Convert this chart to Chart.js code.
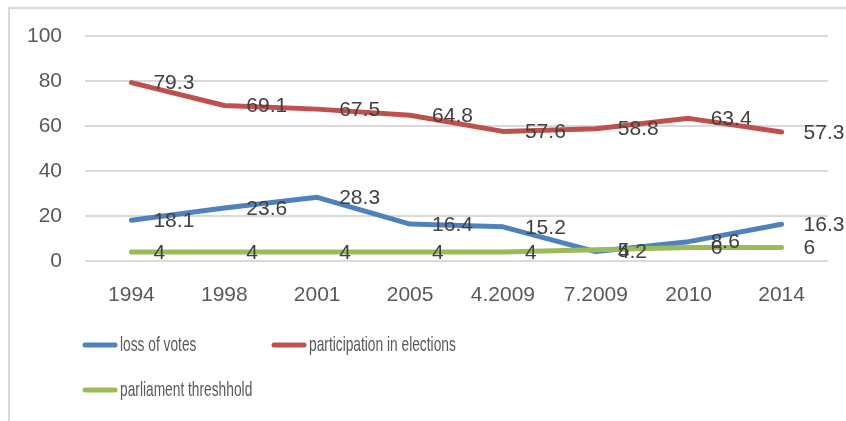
<!DOCTYPE html>
<html>
<head>
<meta charset="utf-8">
<title>Elections</title>
<script src="https://cdn.jsdelivr.net/npm/chart.js@4"></script>
<style>
  html, body { margin: 0; padding: 0; background: #fff; }
  #wrap { width: 846px; height: 421px; position: relative; }
</style>
</head>
<body>
<div id="wrap"><canvas id="electionChart"></canvas></div>
<script>
// --- Data ---
const years = ['1994', '1998', '2001', '2005', '4.2009', '7.2009', '2010', '2014'];
const lossOfVotes = [18.1, 23.6, 28.3, 16.4, 15.2, 4.2, 8.6, 16.3];
const participation = [79.3, 69.1, 67.5, 64.8, 57.6, 58.8, 63.4, 57.3];
const threshold = [4, 4, 4, 4, 4, 5, 6, 6];
const yTicks = [0, 20, 40, 60, 80, 100];

const BLUE = '#4F81BD';
const RED = '#C0504D';
const GREEN = '#9BBB59';
const FONT = "'Liberation Sans', Arial, sans-serif";

// Light frame around the whole chart
const framePlugin = {
    id: 'frame',
    beforeDraw(chart) {
        const ctx = chart.ctx;
        ctx.save();
        ctx.fillStyle = '#fff';
        ctx.fillRect(0, 0, chart.width, chart.height);
        ctx.strokeStyle = '#D9D9D9';
        ctx.lineWidth = 2;
        ctx.beginPath();
        ctx.moveTo(9, chart.height);
        ctx.lineTo(9, 8);
        ctx.lineTo(chart.width, 8);
        ctx.stroke();
        ctx.restore();
    }
};

// Value labels to the right of every point
const valueLabels = {
    id: 'valueLabels',
    afterDatasetsDraw(chart) {
        const ctx = chart.ctx;
        ctx.save();
        ctx.font = '21px ' + FONT;
        ctx.fillStyle = '#404040';
        ctx.textAlign = 'left';
        ctx.textBaseline = 'middle';
        chart.data.datasets.forEach((ds, i) => {
            const meta = chart.getDatasetMeta(i);
            meta.data.forEach((pt, j) => {
                ctx.fillText(String(ds.data[j]), pt.x + 22, pt.y + 1);
            });
        });
        ctx.restore();
    }
};

// Legend below the plot, two columns
const columnLegend = {
    id: 'columnLegend',
    afterDraw(chart) {
        const ctx = chart.ctx;
        const startX = 83, colW = 189, rows = [345, 390];
        ctx.save();
        chart.data.datasets.forEach((ds, i) => {
            const x = startX + (i % 2) * colW;
            const y = rows[Math.floor(i / 2)];
            ctx.strokeStyle = ds.borderColor;
            ctx.lineWidth = 5;
            ctx.lineCap = 'round';
            ctx.beginPath();
            ctx.moveTo(x + 2, y);
            ctx.lineTo(x + 32, y);
            ctx.stroke();
            ctx.save();
            ctx.translate(x + 37, y);
            ctx.scale(0.655, 1);
            ctx.font = '21px ' + FONT;
            ctx.fillStyle = '#595959';
            ctx.textBaseline = 'middle';
            ctx.fillText(ds.label, 0, 0);
            ctx.restore();
        });
        ctx.restore();
    }
};

const lineStyle = {
    borderWidth: 5,
    pointRadius: 0,
    pointHoverRadius: 0,
    tension: 0,
    borderCapStyle: 'round',
    borderJoinStyle: 'round',
    fill: false
};

new Chart(document.getElementById('electionChart'), {
    type: 'line',
    data: {
        labels: years,
        datasets: [
            { label: 'loss of votes', data: lossOfVotes, borderColor: BLUE, backgroundColor: BLUE, order: 2, ...lineStyle },
            { label: 'participation in elections', data: participation, borderColor: RED, backgroundColor: RED, order: 1, ...lineStyle },
            { label: 'parliament threshhold', data: threshold, borderColor: GREEN, backgroundColor: GREEN, order: 0, ...lineStyle }
        ]
    },
    options: {
        responsive: true,
        maintainAspectRatio: false,
        animation: false,
        layout: { padding: { left: 0, top: 36, right: 18, bottom: 0 } },
        plugins: {
            legend: { display: false },
            tooltip: { enabled: false }
        },
        scales: {
            x: {
                offset: true,
                grid: { display: false, drawTicks: false },
                border: { display: false },
                ticks: {
                    color: '#595959',
                    font: { family: FONT, size: 21 },
                    padding: 22,
                    maxRotation: 0,
                    autoSkip: false
                },
                afterFit(scale) { scale.height = 160; }
            },
            y: {
                min: 0,
                max: 100,
                afterBuildTicks(scale) { scale.ticks = yTicks.map(v => ({ value: v })); },
                grid: { color: '#D9D9D9', lineWidth: 2, drawTicks: false },
                border: { display: false },
                ticks: {
                    color: '#595959',
                    font: { family: FONT, size: 21 },
                    padding: 23
                },
                afterFit(scale) { scale.width = 85; }
            }
        }
    },
    plugins: [framePlugin, valueLabels, columnLegend]
});
</script>
</body>
</html>
